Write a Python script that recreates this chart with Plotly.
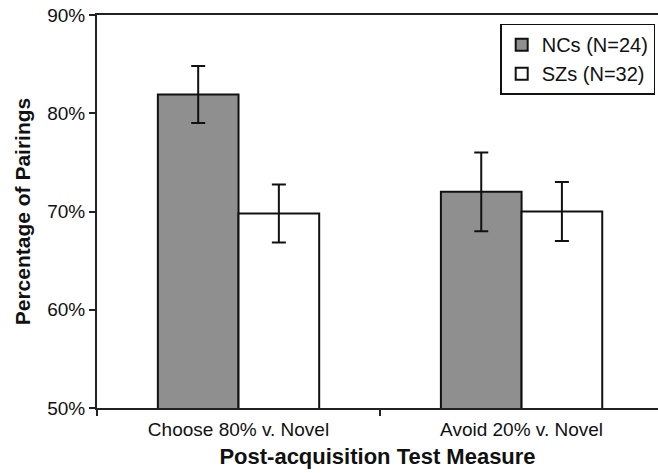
import plotly.graph_objects as go

categories = ["Choose 80% v. Novel", "Avoid 20% v. Novel"]
nc_values = [81.9, 72.0]
nc_err = [2.9, 4.0]
sz_values = [69.8, 70.0]
sz_err = [2.95, 3.0]
y_ticks = [50, 60, 70, 80, 90]
y_tick_labels = ["50%", "60%", "70%", "80%", "90%"]

FONT = "Liberation Sans, Arial, sans-serif"

fig = go.Figure()
fig.add_trace(go.Bar(
    x=categories, y=nc_values, name="NCs (N=24)",
    marker=dict(color="#8f8f8f", line=dict(color="#111111", width=2)),
    error_y=dict(type="data", array=nc_err, visible=True, color="#111111", thickness=2, width=7),
))
fig.add_trace(go.Bar(
    x=categories, y=sz_values, name="SZs (N=32)",
    marker=dict(color="#ffffff", line=dict(color="#111111", width=2)),
    error_y=dict(type="data", array=sz_err, visible=True, color="#111111", thickness=2, width=7),
))

fig.update_layout(
    width=658, height=473,
    margin=dict(l=97, r=0, t=15, b=65),
    paper_bgcolor="white", plot_bgcolor="white",
    barmode="group", bargap=0.43, bargroupgap=0,
    font=dict(family=FONT, color="#111111"),
    legend=dict(
        x=0.995, y=0.978, xanchor="right", yanchor="top",
        bordercolor="#111111", borderwidth=1.5, bgcolor="white",
        font=dict(size=20, family=FONT), itemwidth=30,
    ),
    showlegend=True,
)
fig.update_xaxes(
    type="category", range=[-0.5, 1.482],
    showline=True, linecolor="#222222", linewidth=2, mirror=True,
    ticks="outside", tickson="boundaries", ticklen=6, tickwidth=1.5, tickcolor="#222222",
    ticklabelstandoff=3,
    showgrid=False, tickfont=dict(size=19, family=FONT),
    title=dict(text="<b>Post-acquisition Test Measure</b>", font=dict(size=22, family=FONT), standoff=10),
)
fig.update_yaxes(
    range=[50, 90], tickvals=y_ticks, ticktext=y_tick_labels,
    showline=True, linecolor="#222222", linewidth=2,
    ticks="outside", ticklen=6, tickwidth=1.5, tickcolor="#222222",
    showgrid=False, zeroline=False, tickfont=dict(size=19, family=FONT),
    title=dict(text="<b>Percentage of Pairings</b>", font=dict(size=21, family=FONT), standoff=11),
)

fig.write_html("out.html")
